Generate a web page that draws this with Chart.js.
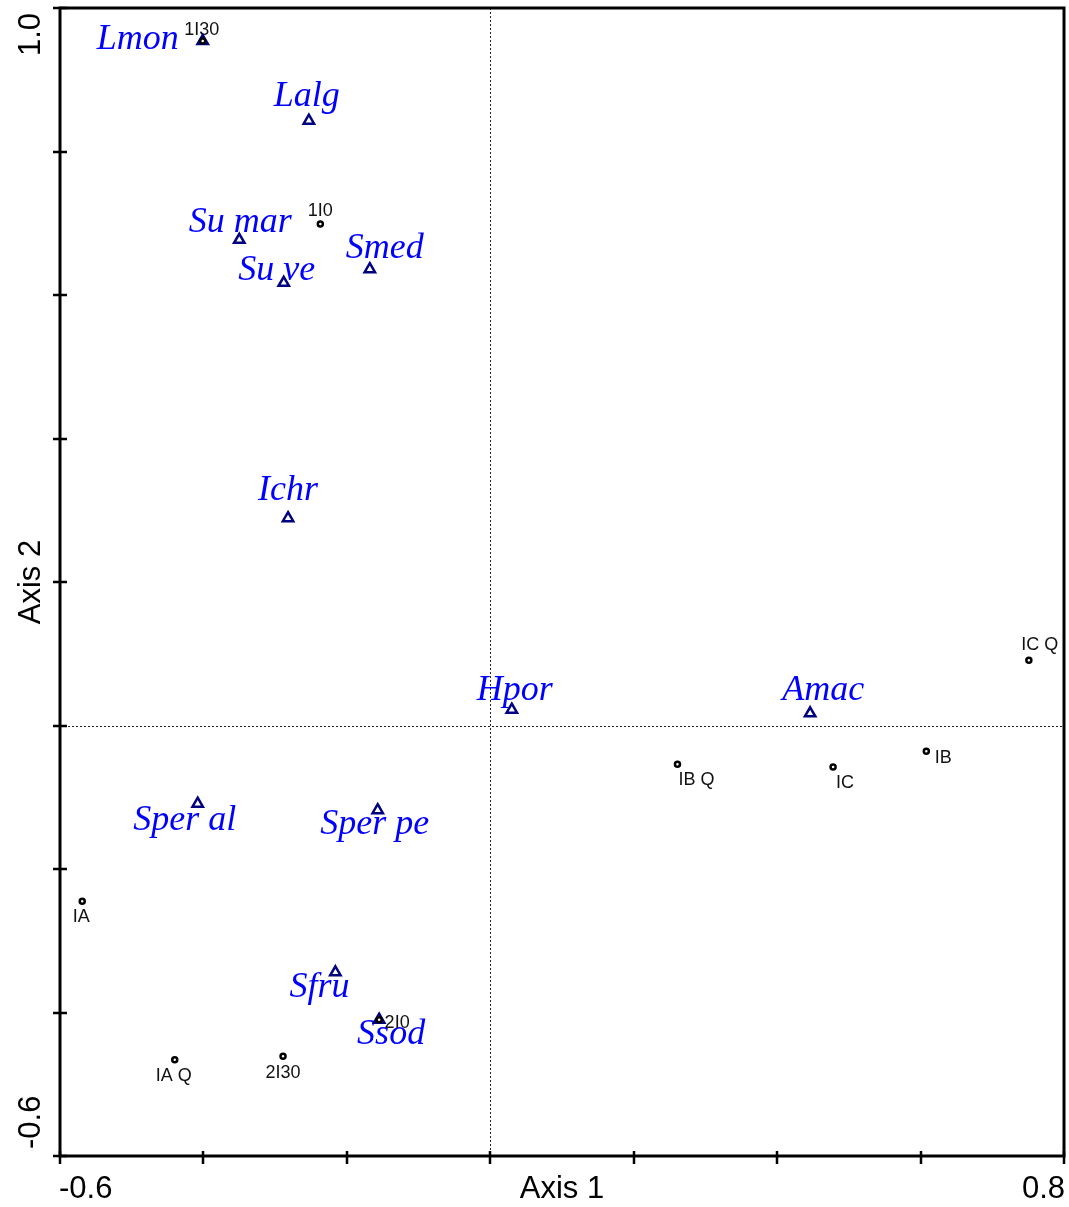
<!DOCTYPE html>
<html lang="en">
<head>
  <meta charset="UTF-8">
  <title>Axis 1 / Axis 2 ordination</title>
  <script src="https://cdn.jsdelivr.net/npm/chart.js"></script>
  <style>
    body {
      margin: 0;
      background: #fff;
    }
    canvas {
      display: block;
    }
  </style>
</head>
<body>
  <canvas id="myChart" width="1069" height="1207"></canvas>

  <script>
    // species scores (triangles)
    const speciesNames = ['Lmon', 'Lalg', 'Su mar', 'Su ve', 'Smed', 'Ichr', 'Hpor', 'Amac', 'Sper al', 'Sper pe', 'Sfru', 'Ssod'];
    const speciesX = [-0.401, -0.253, -0.350, -0.288, -0.168, -0.282, 0.030, 0.446, -0.408, -0.157, -0.216, -0.155];
    const speciesY = [0.954, 0.843, 0.677, 0.617, 0.636, 0.289, 0.022, 0.017, -0.109, -0.118, -0.344, -0.410];

    // sample scores (small circles)
    const sampleNames = ['1I30', '1I0', 'IA', 'IA Q', '2I30', '2I0', 'IB Q', 'IC', 'IB', 'IC Q'];
    const sampleX = [-0.401, -0.237, -0.569, -0.440, -0.289, -0.155, 0.261, 0.478, 0.608, 0.751];
    const sampleY = [0.954, 0.699, -0.245, -0.466, -0.461, -0.410, -0.054, -0.058, -0.036, 0.091];

    // axes
    const xMin = -0.6, xMax = 0.8, yMin = -0.6, yMax = 1.0;
    const tickStep = 0.2;
    const xTickLabels = ['-0.6', '0.8'];
    const yTickLabels = ['-0.6', '1.0'];
    const xTitle = 'Axis 1';
    const yTitle = 'Axis 2';

    // label placement (pixel offsets from the marker, text centred, baseline)
    const speciesLabelOffsets = [[-65, 8], [-2, -15], [1, -8], [-7, -3], [15, -11], [0, -18], [3, -10], [13, -13], [-13, 26], [-3, 24], [-16, 25], [12, 24]];
    const sampleLabelOffsets = [[-1, -6], [0, -8], [-1, 21], [-1, 21], [0, 22], [18, 8], [19, 21], [12, 21], [17, 12], [11, -10]];

    const toPoints = (xs, ys) => xs.map((x, i) => ({ x: x, y: ys[i] }));

    const decorPlugin = {
      id: 'decor',
      beforeDatasetsDraw(chart) {
        const ctx = chart.ctx;
        const a = chart.chartArea;
        const xs = chart.scales.x, ys = chart.scales.y;
        ctx.save();

        // dotted zero lines
        ctx.strokeStyle = '#222';
        ctx.lineWidth = 1;
        ctx.setLineDash([2, 2]);
        const x0 = Math.round(xs.getPixelForValue(0)) + 0.5;
        const y0 = Math.round(ys.getPixelForValue(0)) + 0.5;
        ctx.beginPath();
        ctx.moveTo(x0, a.top);
        ctx.lineTo(x0, a.bottom);
        ctx.moveTo(a.left, y0);
        ctx.lineTo(a.right, y0);
        ctx.stroke();
        ctx.setLineDash([]);

        // labels under the markers
        ctx.textAlign = 'center';
        ctx.textBaseline = 'alphabetic';
        ctx.fillStyle = '#0000ff';
        ctx.font = 'italic 36px "Liberation Serif", "Times New Roman", serif';
        speciesNames.forEach((name, i) => {
          const px = xs.getPixelForValue(speciesX[i]);
          const py = ys.getPixelForValue(speciesY[i]);
          ctx.fillText(name, px + speciesLabelOffsets[i][0], py + speciesLabelOffsets[i][1]);
        });
        ctx.fillStyle = '#111';
        ctx.font = '18px "Liberation Sans", Arial, sans-serif';
        sampleNames.forEach((name, i) => {
          const px = xs.getPixelForValue(sampleX[i]);
          const py = ys.getPixelForValue(sampleY[i]);
          ctx.fillText(name, px + sampleLabelOffsets[i][0], py + sampleLabelOffsets[i][1]);
        });
        ctx.restore();
      },
      afterDraw(chart) {
        const ctx = chart.ctx;
        const a = chart.chartArea;
        const xs = chart.scales.x, ys = chart.scales.y;
        ctx.save();

        // frame
        ctx.strokeStyle = '#000';
        ctx.lineWidth = 3;
        ctx.strokeRect(a.left, a.top, a.right - a.left, a.bottom - a.top);

        // tick marks crossing the axes
        ctx.lineWidth = 2.5;
        ctx.beginPath();
        for (let v = xMin; v <= xMax + 1e-9; v += tickStep) {
          const px = Math.round(xs.getPixelForValue(v));
          ctx.moveTo(px, a.bottom - 5);
          ctx.lineTo(px, a.bottom + 8);
        }
        for (let v = yMin; v <= yMax + 1e-9; v += tickStep) {
          const py = Math.round(ys.getPixelForValue(v));
          ctx.moveTo(a.left - 7, py);
          ctx.lineTo(a.left + 7, py);
        }
        ctx.stroke();

        // tick labels, kept inside the axis range
        ctx.fillStyle = '#000';
        ctx.font = '31px "Liberation Sans", Arial, sans-serif';
        ctx.textBaseline = 'alphabetic';
        ctx.textAlign = 'left';
        ctx.fillText(xTickLabels[0], xs.getPixelForValue(xMin) - 1, 1198);
        ctx.textAlign = 'right';
        ctx.fillText(xTickLabels[1], xs.getPixelForValue(xMax) + 1, 1198);
        ctx.textAlign = 'center';
        ctx.fillText(xTitle, (a.left + a.right) / 2, 1198);

        ctx.save();
        ctx.translate(40, 0);
        ctx.rotate(-Math.PI / 2);
        ctx.textAlign = 'left';
        ctx.fillText(yTickLabels[0], -(ys.getPixelForValue(yMin) - 7), 0);
        ctx.textAlign = 'right';
        ctx.fillText(yTickLabels[1], -(ys.getPixelForValue(yMax) + 5), 0);
        ctx.textAlign = 'center';
        ctx.fillText(yTitle, -(a.top + a.bottom) / 2, 0);
        ctx.restore();

        ctx.restore();
      }
    };

    new Chart(document.getElementById('myChart'), {
      type: 'scatter',
      data: {
        datasets: [
          {
            label: 'Samples',
            data: toPoints(sampleX, sampleY),
            pointStyle: 'circle',
            pointRadius: 2.5,
            borderColor: '#000',
            backgroundColor: '#fff',
            borderWidth: 2.5
          },
          {
            label: 'Species',
            data: toPoints(speciesX, speciesY),
            pointStyle: 'triangle',
            pointRadius: 6,
            borderColor: '#000080',
            backgroundColor: '#fff',
            borderWidth: 2.5
          }
        ]
      },
      options: {
        responsive: false,
        animation: false,
        layout: {
          autoPadding: false,
          padding: { left: 60, right: 5, top: 8, bottom: 51 }
        },
        plugins: {
          legend: { display: false },
          tooltip: { enabled: false }
        },
        scales: {
          x: { type: 'linear', min: xMin, max: xMax, display: false },
          y: { type: 'linear', min: yMin, max: yMax, display: false }
        }
      },
      plugins: [decorPlugin]
    });
  </script>
</body>
</html>
